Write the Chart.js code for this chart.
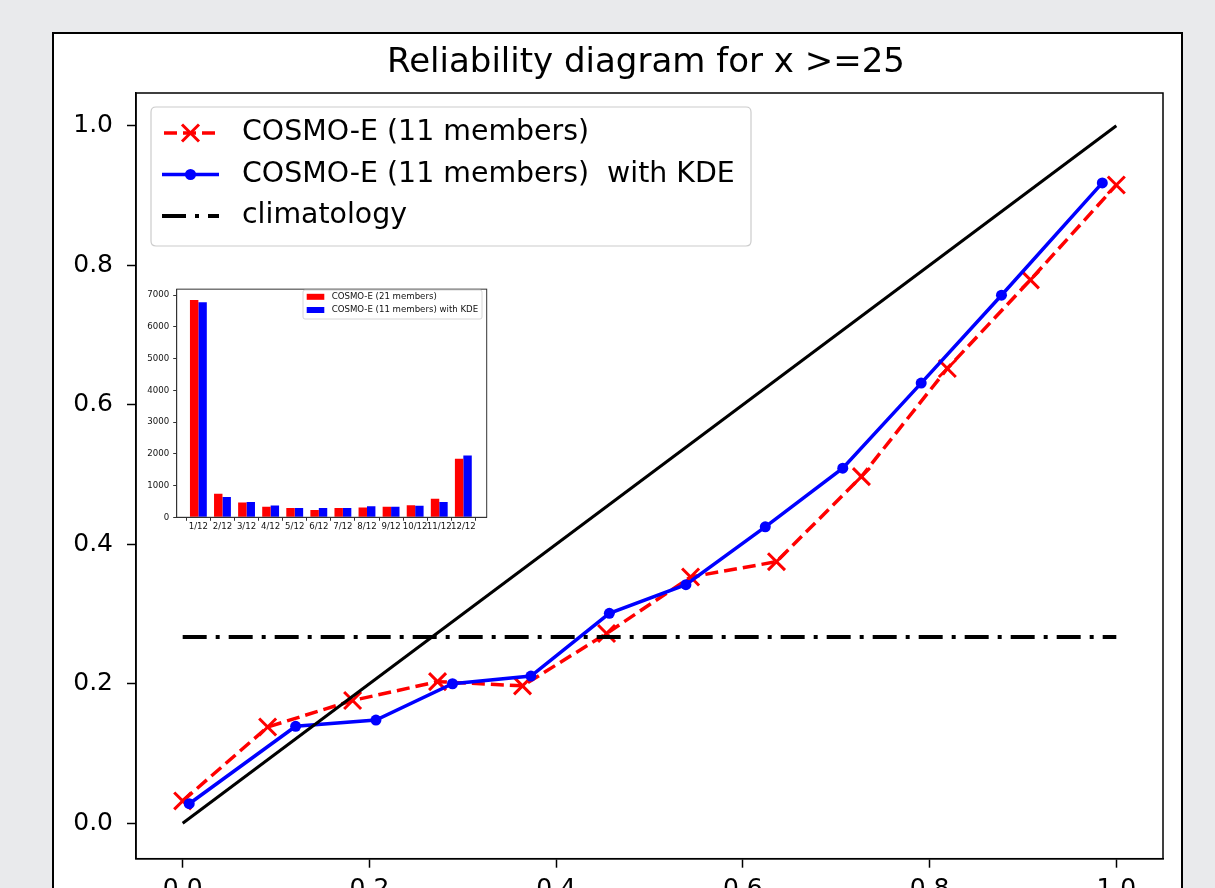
<!DOCTYPE html>
<html><head><meta charset="utf-8">
<script src="https://cdn.jsdelivr.net/npm/chart.js@4.4.1/dist/chart.umd.min.js"></script>
<style>
html,body{margin:0;padding:0;background:#e9eaec;width:1215px;height:888px;overflow:hidden;}
#frame{position:absolute;left:52px;top:32px;width:1127px;height:900px;background:#fff;border:2px solid #000;}
#main{position:absolute;left:0;top:0;}
#inset{position:absolute;left:140px;top:280px;}
</style></head><body>
<div id="frame"></div>
<canvas id="main" width="1215" height="888"></canvas>
<canvas id="inset" width="352" height="256"></canvas>
<script>
// ---------- data ----------
const titleText = 'Reliability diagram for x >=25';
const seriesNames = ['COSMO-E (11 members)', 'COSMO-E (11 members)  with KDE', 'climatology'];
const redX  = [0.000, 0.091, 0.182, 0.273, 0.364, 0.454, 0.544, 0.636, 0.727, 0.819, 0.908, 1.000];
const redY  = [0.032, 0.138, 0.176, 0.203, 0.197, 0.272, 0.353, 0.375, 0.497, 0.652, 0.779, 0.915];
const blueX = [0.007, 0.121, 0.207, 0.289, 0.373, 0.457, 0.539, 0.624, 0.707, 0.791, 0.877, 0.985];
const blueY = [0.028, 0.139, 0.148, 0.200, 0.211, 0.301, 0.342, 0.425, 0.509, 0.631, 0.757, 0.918];
const climX = [0.0, 1.0];
const climY = [0.267, 0.267];
const diagX = [0.0, 1.0];
const diagY = [0.0, 1.0];
const xTickValues = [0.0, 0.2, 0.4, 0.6, 0.8, 1.0];
const xTickLabels = ['0.0', '0.2', '0.4', '0.6', '0.8', '1.0'];
const yTickValues = [0.0, 0.2, 0.4, 0.6, 0.8, 1.0];
const yTickLabels = ['0.0', '0.2', '0.4', '0.6', '0.8', '1.0'];

// inset histogram
const insetNames = ['COSMO-E (21 members)', 'COSMO-E (11 members) with KDE'];
const insetCategories = ['1/12','2/12','3/12','4/12','5/12','6/12','7/12','8/12','9/12','10/12','11/12','12/12'];
const insetPositions = [1,2,3,4,5,6,7,8,9,10,11,12];
const insetRed  = [6846, 742, 464, 330, 289, 227, 289, 309, 330, 381, 588, 1845];
const insetBlue = [6774, 639, 485, 371, 289, 289, 289, 350, 330, 361, 485, 1949];
const insetYTickValues = [0,1000,2000,3000,4000,5000,6000,7000];
const insetYTickLabels = ['0','1000','2000','3000','4000','5000','6000','7000'];

// ---------- styles ----------
const FAM = "'DejaVu Sans', sans-serif";
const pts = (xs, ys) => xs.map((x, i) => ({x: x, y: ys[i]}));
const RED = '#ff0000', BLUE = '#0000ff';
const DASH_RED = [13, 6];
const DASH_CLIM = [24, 9, 4, 9];

function roundRect(ctx, x, y, w, h, r) {
  ctx.beginPath();
  ctx.moveTo(x + r, y);
  ctx.lineTo(x + w - r, y); ctx.quadraticCurveTo(x + w, y, x + w, y + r);
  ctx.lineTo(x + w, y + h - r); ctx.quadraticCurveTo(x + w, y + h, x + w - r, y + h);
  ctx.lineTo(x + r, y + h); ctx.quadraticCurveTo(x, y + h, x, y + h - r);
  ctx.lineTo(x, y + r); ctx.quadraticCurveTo(x, y, x + r, y);
  ctx.closePath();
}

const mainDecor = {
  id: 'mainDecor',
  afterDraw(chart) {
    const ctx = chart.ctx, a = chart.chartArea;
    ctx.save();
    // spines
    ctx.strokeStyle = '#000'; ctx.lineWidth = 1.5; ctx.setLineDash([]);
    ctx.strokeRect(a.left, a.top, a.right - a.left, a.bottom - a.top);
    // title
    ctx.fillStyle = '#000';
    ctx.font = '34px ' + FAM;
    ctx.textAlign = 'center'; ctx.textBaseline = 'alphabetic';
    ctx.fillText(titleText, 646, 72);
    // legend
    const bx = 151, by = 107, bw = 600, bh = 139;
    roundRect(ctx, bx, by, bw, bh, 5);
    ctx.fillStyle = 'rgba(255,255,255,0.85)'; ctx.fill();
    ctx.strokeStyle = '#cccccc'; ctx.lineWidth = 1.2; ctx.stroke();
    const rows = [133, 174.5, 216];
    const x1 = 162, x2 = 219, xm = 190.5;
    // row 0: red dashed with x
    ctx.lineCap = 'butt';
    ctx.strokeStyle = RED; ctx.lineWidth = 3.5; ctx.setLineDash(DASH_RED); ctx.lineDashOffset = -2;
    ctx.beginPath(); ctx.moveTo(x1, rows[0]); ctx.lineTo(x2, rows[0]); ctx.stroke();
    ctx.setLineDash([]); ctx.lineWidth = 3;
    const d = 8.5;
    ctx.beginPath();
    ctx.moveTo(xm - d, rows[0] - d); ctx.lineTo(xm + d, rows[0] + d);
    ctx.moveTo(xm - d, rows[0] + d); ctx.lineTo(xm + d, rows[0] - d);
    ctx.stroke();
    // row 1: blue solid with dot
    ctx.strokeStyle = BLUE; ctx.lineWidth = 3.5;
    ctx.beginPath(); ctx.moveTo(x1, rows[1]); ctx.lineTo(x2, rows[1]); ctx.stroke();
    ctx.fillStyle = BLUE; ctx.beginPath(); ctx.arc(xm, rows[1], 5.5, 0, Math.PI * 2); ctx.fill();
    // row 2: black dash-dot
    ctx.strokeStyle = '#000'; ctx.lineWidth = 4; ctx.setLineDash(DASH_CLIM); ctx.lineDashOffset = 0;
    ctx.beginPath(); ctx.moveTo(x1, rows[2]); ctx.lineTo(x2, rows[2]); ctx.stroke();
    ctx.setLineDash([]);
    // texts
    ctx.fillStyle = '#000'; ctx.font = '28.4px ' + FAM;
    ctx.textAlign = 'left'; ctx.textBaseline = 'middle';
    seriesNames.forEach((t, i) => ctx.fillText(t, 242, rows[i]));
    ctx.restore();
  }
};

new Chart(document.getElementById('main'), {
  type: 'scatter',
  data: {
    datasets: [
      {label: 'diagonal', data: pts(diagX, diagY), showLine: true, borderColor: '#000', borderWidth: 3, pointRadius: 0, fill: false},
      {label: seriesNames[2], data: pts(climX, climY), showLine: true, borderColor: '#000', borderWidth: 4, borderDash: DASH_CLIM, pointRadius: 0, fill: false},
      {label: seriesNames[1], data: pts(blueX, blueY), showLine: true, borderColor: BLUE, borderWidth: 3.5,
        pointRadius: 5.5, pointBackgroundColor: BLUE, pointBorderColor: BLUE, pointBorderWidth: 0, fill: false},
      {label: seriesNames[0], data: pts(redX, redY), showLine: true, borderColor: RED, borderWidth: 3.5, borderDash: DASH_RED,
        pointStyle: 'crossRot', pointRadius: 12, pointBorderColor: RED, pointBackgroundColor: RED, pointBorderWidth: 3, fill: false}
    ]
  },
  options: {
    responsive: false, animation: false, devicePixelRatio: 1,
    layout: {padding: {left: 0, top: 93, right: 52, bottom: 0}},
    plugins: {legend: {display: false}, title: {display: false}, tooltip: {enabled: false}},
    elements: {line: {tension: 0}},
    scales: {
      x: {
        type: 'linear', min: -0.05, max: 1.05,
        afterFit(s) { s.height = 29.3; },
        afterBuildTicks(s) { s.ticks = xTickValues.map(v => ({value: v})); },
        ticks: {callback: (v, i) => xTickLabels[i], font: {family: FAM, size: 25}, color: '#000', padding: 7, maxRotation: 0, autoSkip: false},
        grid: {drawOnChartArea: false, drawTicks: true, tickLength: 9, tickColor: '#000', tickWidth: 1.5},
        border: {display: true, color: '#000', width: 1.5}
      },
      y: {
        type: 'linear', min: -0.0508, max: 1.0469,
        afterFit(s) { s.width = 136; },
        afterBuildTicks(s) { s.ticks = yTickValues.map(v => ({value: v})); },
        ticks: {callback: (v, i) => yTickLabels[i], font: {family: FAM, size: 25}, color: '#000', padding: 14, autoSkip: false},
        grid: {drawOnChartArea: false, drawTicks: true, tickLength: 9, tickColor: '#000', tickWidth: 1.5},
        border: {display: true, color: '#000', width: 1.5}
      }
    }
  },
  plugins: [mainDecor]
});

// ---------- inset ----------
const insetDecor = {
  id: 'insetDecor',
  afterDraw(chart) {
    const ctx = chart.ctx, a = chart.chartArea;
    ctx.save();
    ctx.strokeStyle = '#333'; ctx.lineWidth = 1;
    ctx.strokeRect(a.left, a.top, a.right - a.left, a.bottom - a.top);
    // legend
    const bx = 163, by = 10, bw = 179, bh = 29;
    roundRect(ctx, bx, by, bw, bh, 2);
    ctx.fillStyle = 'rgba(255,255,255,0.85)'; ctx.fill();
    ctx.strokeStyle = '#cccccc'; ctx.lineWidth = 0.8; ctx.stroke();
    const rows = [16.8, 30];
    ctx.fillStyle = RED; ctx.fillRect(166.7, rows[0] - 3, 17.6, 6);
    ctx.fillStyle = BLUE; ctx.fillRect(166.7, rows[1] - 3, 17.6, 6);
    ctx.fillStyle = '#111'; ctx.font = '8.6px ' + FAM;
    ctx.textAlign = 'left'; ctx.textBaseline = 'middle';
    insetNames.forEach((t, i) => ctx.fillText(t, 191.7, rows[i]));
    ctx.restore();
  }
};

new Chart(document.getElementById('inset'), {
  type: 'bar',
  data: {
    datasets: [
      {label: insetNames[0], data: pts(insetPositions, insetRed), backgroundColor: RED, borderWidth: 0, categoryPercentage: 0.7, barPercentage: 1.0},
      {label: insetNames[1], data: pts(insetPositions, insetBlue), backgroundColor: BLUE, borderWidth: 0, categoryPercentage: 0.7, barPercentage: 1.0}
    ]
  },
  options: {
    responsive: false, animation: false, devicePixelRatio: 1,
    layout: {padding: {left: 0, top: 5, right: 5.3, bottom: 0}},
    plugins: {legend: {display: false}, title: {display: false}, tooltip: {enabled: false}},
    scales: {
      x: {
        type: 'linear', min: 0.1, max: 12.97, offset: false,
        afterFit(s) { s.height = 18.7; },
        afterBuildTicks(s) { s.ticks = insetPositions.map(v => ({value: v})); },
        ticks: {callback: (v, i) => insetCategories[i], font: {family: FAM, size: 8.6}, color: '#111', padding: 1, maxRotation: 0, autoSkip: false},
        grid: {drawOnChartArea: false, drawTicks: true, tickLength: 3.5, tickColor: '#333', tickWidth: 1},
        border: {display: true, color: '#333', width: 1}
      },
      y: {
        type: 'linear', min: 0, max: 7185,
        afterFit(s) { s.width = 36.7; },
        afterBuildTicks(s) { s.ticks = insetYTickValues.map(v => ({value: v})); },
        ticks: {callback: (v, i) => insetYTickLabels[i], font: {family: FAM, size: 8.6}, color: '#111', padding: 4, autoSkip: false},
        grid: {drawOnChartArea: false, drawTicks: true, tickLength: 3.5, tickColor: '#333', tickWidth: 1},
        border: {display: true, color: '#333', width: 1}
      }
    }
  },
  plugins: [insetDecor]
});
</script>
</body></html>
